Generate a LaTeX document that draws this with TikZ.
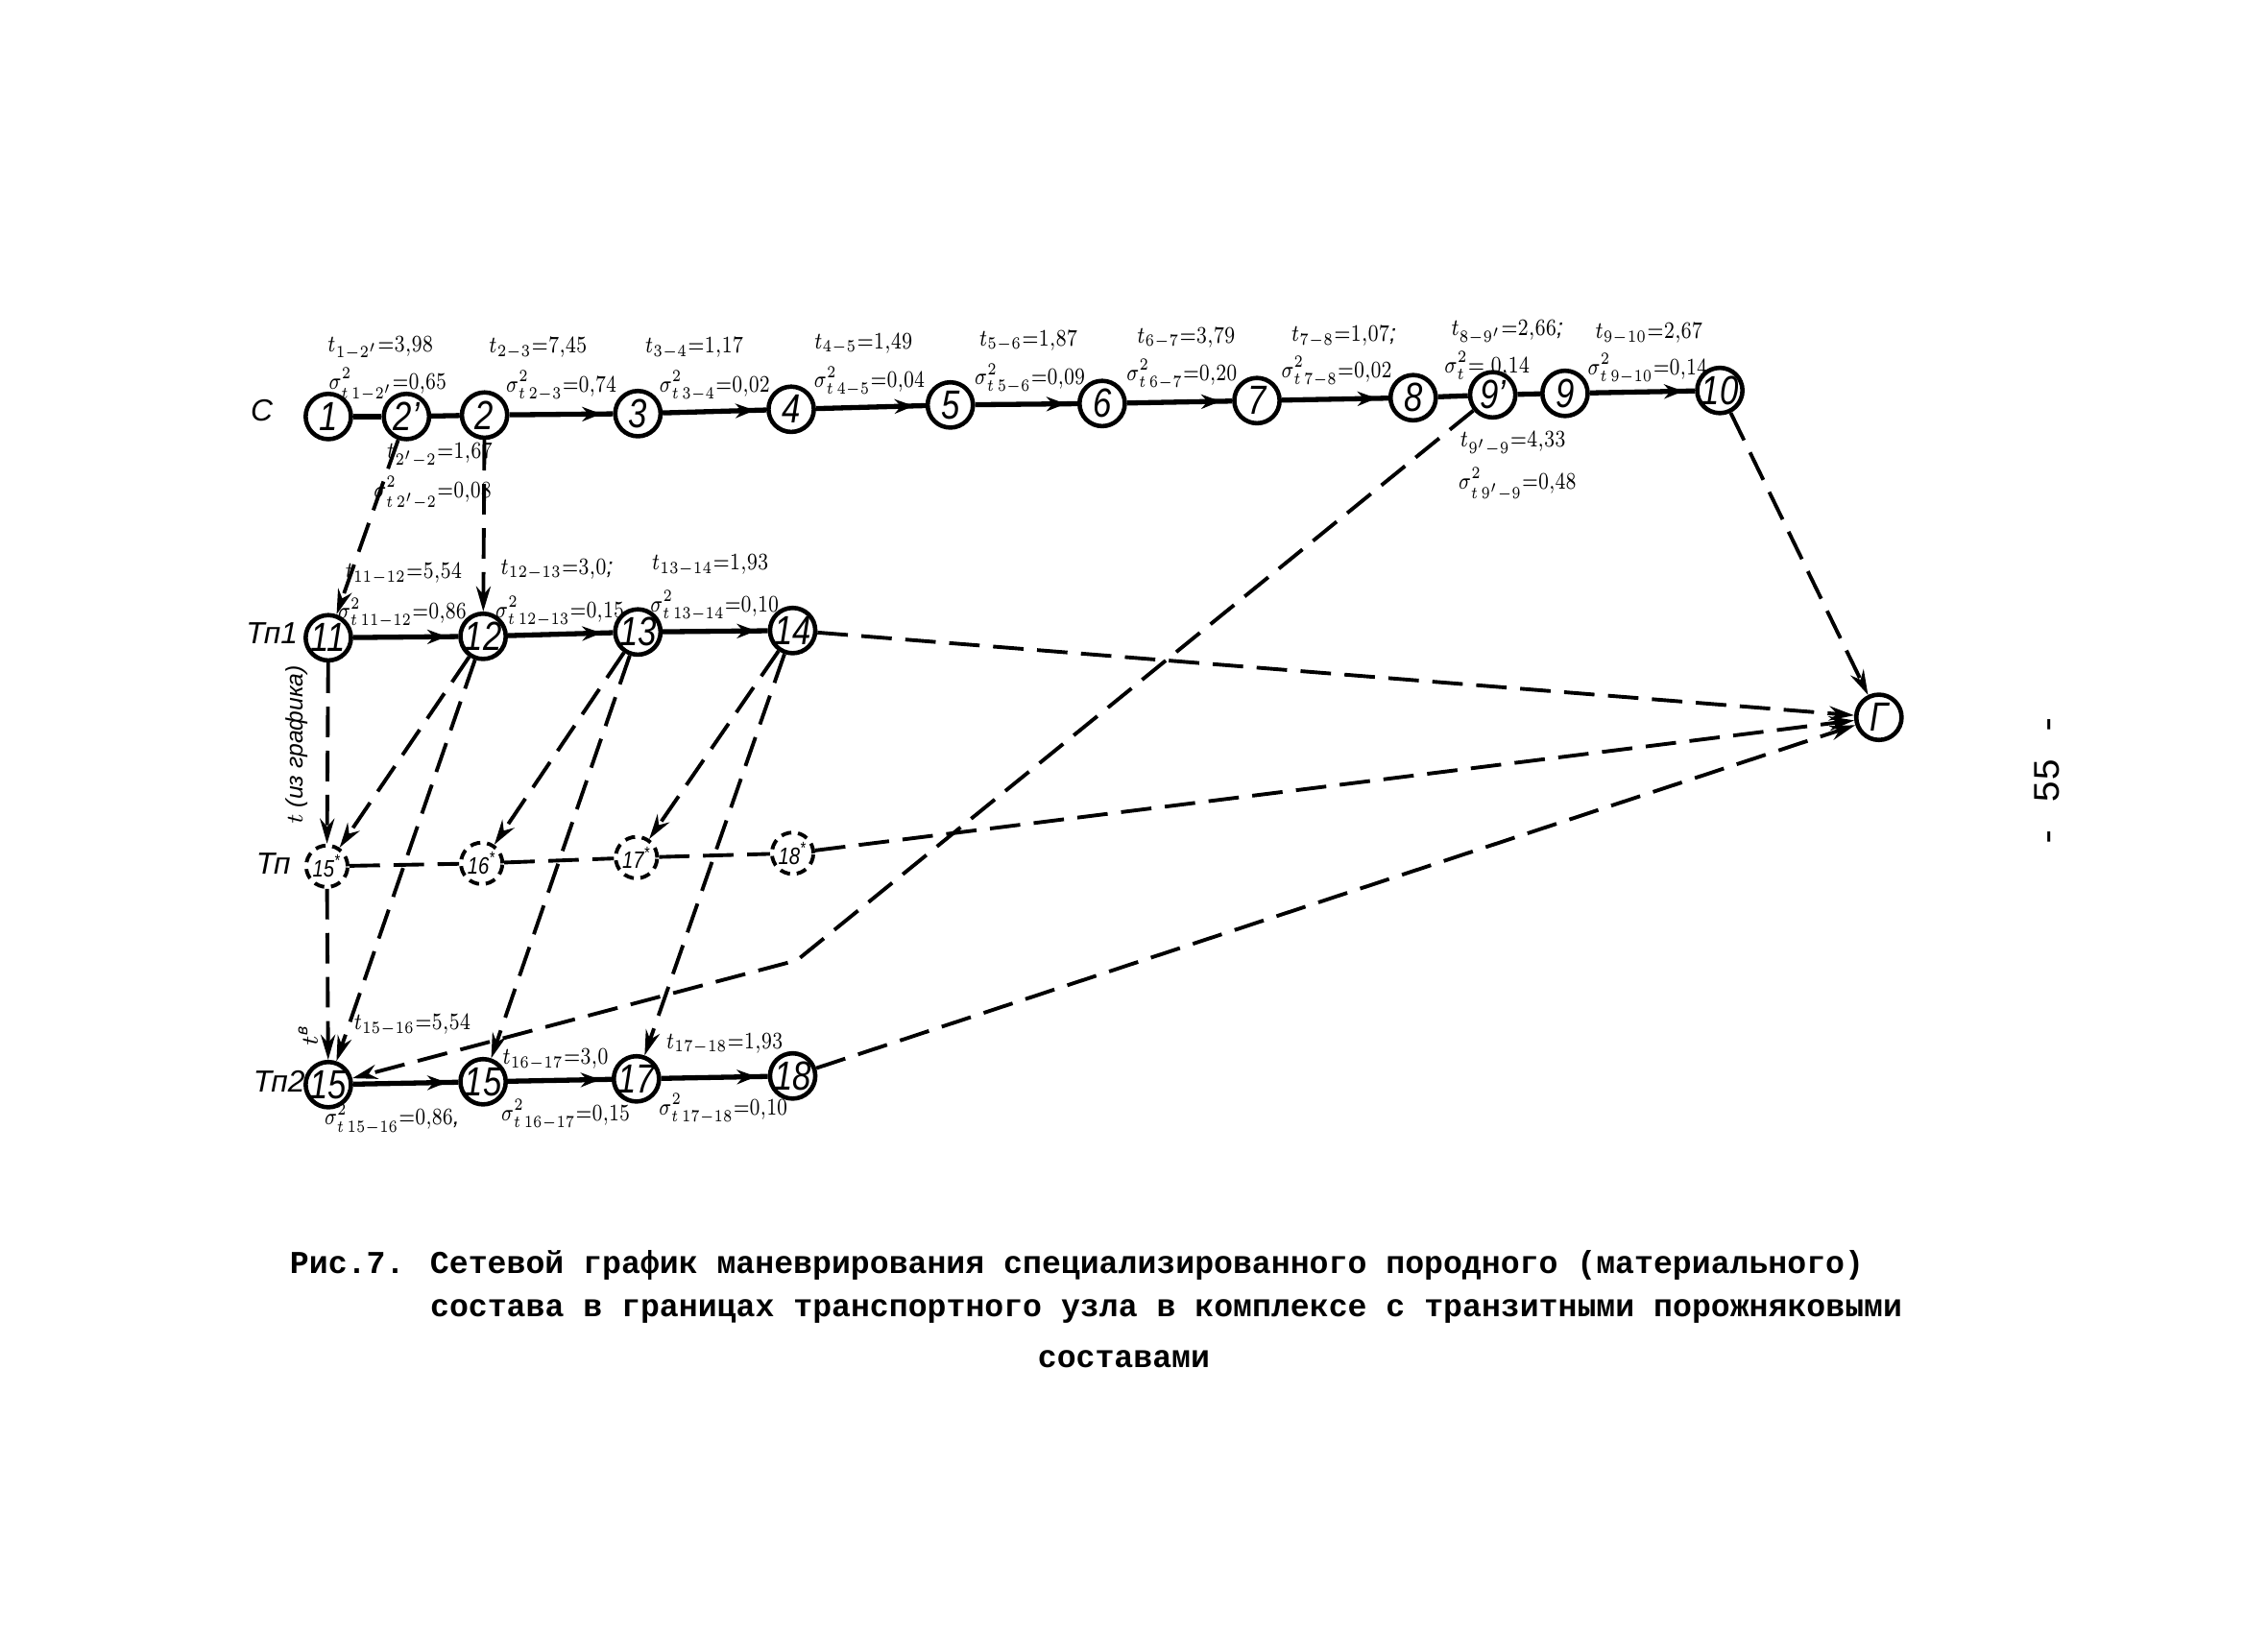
\documentclass[tikz,border=0pt]{standalone}
\usepackage{fontspec}
\setmainfont{Liberation Sans}
\newfontfamily\capfont{Liberation Mono}
\usepackage{tikz}
\usetikzlibrary{arrows.meta,decorations.markings}
\newcommand{\nm}[1]{\makebox[0pt]{\scalebox{0.82}[1]{#1}}}
\newcommand{\tdur}[2]{\scalebox{0.8}[1]{$t_{#1}{=}#2$}}
\newcommand{\tvar}[2]{\scalebox{0.78}[1]{$\sigma^2_{t\,#1}{=}#2$}}

\begin{document}
\begin{tikzpicture}[
  x=0.015cm,y=-0.015cm,
  ev/.style={circle,draw,line width=1.3pt,minimum size=0.47cm,inner sep=0pt,font=\itshape\large},
  evd/.style={circle,draw,line width=1.1pt,dash pattern=on 3pt off 2pt,
              minimum size=0.43cm,inner sep=0pt,font=\itshape\scriptsize},
  lab/.style={font=\scriptsize\itshape,inner sep=0pt},
  rowlab/.style={font=\itshape\small,inner sep=1pt},
  link/.style={line width=1.5pt},
  act/.style={line width=1.5pt,postaction={decorate},
    decoration={markings,mark=at position -0.12cm with {\arrow{Stealth[length=2mm,width=1.5mm]}}}},
  dep/.style={line width=1.1pt,dash pattern=on 9pt off 4pt,-{Stealth[length=2.6mm,width=1.5mm]}},
  depn/.style={line width=1.1pt,dash pattern=on 9pt off 4pt}]
\useasboundingbox (0,0) rectangle (1568,1129);

% row C
\node[ev] (n1)  at (227,288)  {\nm{1}};
\node[ev] (n2a) at (281,288)  {\nm{2'}};
\node[ev] (n2)  at (335,287)  {\nm{2}};
\node[ev] (n3)  at (441,286)  {\nm{3}};
\node[ev] (n4)  at (547,283)  {\nm{4}};
\node[ev] (n5)  at (657,280)  {\nm{5}};
\node[ev] (n6)  at (762,279)  {\nm{6}};
\node[ev] (n7)  at (869,277)  {\nm{7}};
\node[ev] (n8)  at (977,275)  {\nm{8}};
\node[ev] (n9a) at (1032,273) {\nm{9'}};
\node[ev] (n9)  at (1082,272) {\nm{9}};
\node[ev] (n10) at (1189,270) {\nm{10}};
\node[ev] (nG)  at (1299,496) {\nm{Г}};

% rows Tp1, Tp, Tp2
\node[ev] (n11) at (227,441) {\nm{11}};
\node[ev] (n12) at (334,440) {\nm{12}};
\node[ev] (n13) at (441,437) {\nm{13}};
\node[ev] (n14) at (548,436) {\nm{14}};
\node[evd] (n15d) at (226,599) {\nm{15\textsuperscript{*}}};
\node[evd] (n16d) at (333,597) {\nm{16\textsuperscript{*}}};
\node[evd] (n17d) at (440,593) {\nm{17\textsuperscript{*}}};
\node[evd] (n18d) at (548,590) {\nm{18\textsuperscript{*}}};
\node[ev] (n15) at (227,750) {\nm{15}};
\node[ev] (n16) at (334,748) {\nm{15}};
\node[ev] (n17) at (440,746) {\nm{17}};
\node[ev] (n18) at (548,744) {\nm{18}};

\node[rowlab] (rc)   at (181,284) {С};
\node[rowlab] (rtp1) at (188,438) {Тп1};
\node[rowlab] (rtp)  at (189,597) {Тп};
\node[rowlab] (rtp2) at (193,748) {Тп2};

% solid activities
\draw[link] (n1) -- (n2a);
\draw[link] (n2a) -- (n2);
\draw[act] (n2) -- (n3);
\draw[act] (n3) -- (n4);
\draw[act] (n4) -- (n5);
\draw[act] (n5) -- (n6);
\draw[act] (n6) -- (n7);
\draw[act] (n7) -- (n8);
\draw[link] (n8) -- (n9a);
\draw[link] (n9a) -- (n9);
\draw[act] (n9) -- (n10);
\draw[act] (n11) -- (n12);
\draw[act] (n12) -- (n13);
\draw[act] (n13) -- (n14);
\draw[act] (n15) -- (n16);
\draw[act] (n16) -- (n17);
\draw[act] (n17) -- (n18);

% dashed dependencies
\coordinate (bend) at (551,664);
\draw[dep] (n2a) -- (n11);
\draw[dep] (n2) -- (n12);
\draw[dep] (n11) -- (n15d);
\draw[dep] (n12) -- (n15d);
\draw[dep] (n13) -- (n16d);
\draw[dep] (n14) -- (n17d);
\draw[dep] (n12) -- (n15);
\draw[dep] (n13) -- (n16);
\draw[dep] (n14) -- (n17);
\draw[dep] (n15d) -- (n15);
\draw[depn] (n15d) -- (n16d) -- (n17d) -- (n18d);
\draw[dep] (n18d) -- (nG);
\draw[dep] (n14) -- (nG);
\draw[dep] (n18) -- (nG);
\draw[dep] (n10) -- (nG);
\draw[dep] (n9a) -- (bend) -- (n15);

% durations and variances
\node[lab] (l12t) at (263,241) {\tdur{1-2'}{3{,}98}};
\node[lab] (l12s) at (268,266) {\tvar{1-2'}{0{,}65}};
\node[lab] (l22t) at (304,315) {\tdur{2'-2}{1{,}67}};
\node[lab] (l22s) at (299,341) {\tvar{2'-2}{0{,}08}};
\node[lab] (l23t) at (372,241) {\tdur{2-3}{7{,}45}};
\node[lab] (l23s) at (388,267) {\tvar{2-3}{0{,}74}};
\node[lab] (l34t) at (480,241) {\tdur{3-4}{1{,}17}};
\node[lab] (l34s) at (494,267) {\tvar{3-4}{0{,}02}};
\node[lab] (l45t) at (597,238) {\tdur{4-5}{1{,}49}};
\node[lab] (l45s) at (601,264) {\tvar{4-5}{0{,}04}};
\node[lab] (l56t) at (711,236) {\tdur{5-6}{1{,}87}};
\node[lab] (l56s) at (712,262) {\tvar{5-6}{0{,}09}};
\node[lab] (l67t) at (820,234) {\tdur{6-7}{3{,}79}};
\node[lab] (l67s) at (817,259) {\tvar{6-7}{0{,}20}};
\node[lab] (l78t) at (929,233) {\tdur{7-8}{1{,}07};};
\node[lab] (l78s) at (924,257) {\tvar{7-8}{0{,}02}};
\node[lab] (l89t) at (1042,230) {\tdur{8-9'}{2{,}66};};
\node[lab] (l89s) at (1028,253) {\scalebox{0.8}[1]{$\sigma^2_t{=}\;0{,}14$}};
\node[lab] (l910t) at (1140,231) {\tdur{9-10}{2{,}67}};
\node[lab] (l910s) at (1139,255) {\tvar{9-10}{0{,}14}};
\node[lab] (l99t) at (1046,307) {\tdur{9'-9}{4{,}33}};
\node[lab] (l99s) at (1049,335) {\tvar{9'-9}{0{,}48}};
\node[lab] (l1112t) at (279,397) {\tdur{11-12}{5{,}54}};
\node[lab] (l1112s) at (278,424) {\tvar{11-12}{0{,}86}};
\node[lab] (l1213t) at (385,394) {\tdur{12-13}{3{,}0};};
\node[lab] (l1213s) at (387,423) {\tvar{12-13}{0{,}15}};
\node[lab] (l1314t) at (491,391) {\tdur{13-14}{1{,}93}};
\node[lab] (l1314s) at (494,419) {\tvar{13-14}{0{,}10}};
\node[lab] (l1516t) at (285,709) {\tdur{15-16}{5{,}54}};
\node[lab] (l1516s) at (271,774) {\tvar{15-16}{0{,}86},};
\node[lab] (l1617t) at (384,733) {\tdur{16-17}{3{,}0}};
\node[lab] (l1617s) at (391,771) {\tvar{16-17}{0{,}15}};
\node[lab] (l1718t) at (501,722) {\tdur{17-18}{1{,}93}};
\node[lab] (l1718s) at (500,767) {\tvar{17-18}{0{,}10}};
\node[lab,rotate=90] (lwait) at (205,515) {$t$ (из графика)};
\node[lab,rotate=90] (lwait2) at (213,716) {$t$\textsuperscript{в}};

% caption and page number
\node[anchor=west,inner sep=0pt,font=\capfont\bfseries\fontsize{9.4}{12}\selectfont] (cap1) at (200,875)
  {Рис.7. Сетевой график маневрирования специализированного породного (материального)};
\node[anchor=west,inner sep=0pt,font=\capfont\bfseries\fontsize{9.4}{12}\selectfont] (cap2) at (297,907)
  {состава в границах транспортного узла в комплексе с транзитными порожняковыми};
\node[inner sep=0pt,font=\capfont\bfseries\fontsize{9.4}{12}\selectfont] (cap3) at (777,940) {составами};
\node[rotate=90,inner sep=0pt,font=\capfont\fontsize{11}{12}\selectfont] (page) at (1415,540) {- 55 -};
\end{tikzpicture}
\end{document}
